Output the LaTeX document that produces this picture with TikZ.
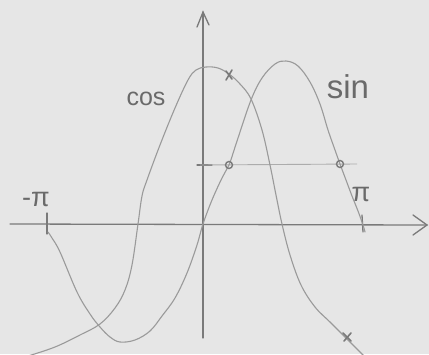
\documentclass[tikz,border=0pt]{standalone}
\usepackage{fontspec}
\setmainfont{Liberation Sans}
\begin{document}
\begin{tikzpicture}[x=1pt,y=-1pt,
  axis/.style={draw=axisgray,line width=1.3pt,line cap=round},
  curve/.style={draw=curvegray,line width=1.1pt,line cap=round,line join=round},
  lbl/.style={text=textgray,inner sep=0pt},
  ring/.style={circle,draw=axisgray,line width=1.4pt,minimum size=7pt,inner sep=0pt},
  cross/.style={draw=axisgray,line width=1.6pt,line cap=round}]
\definecolor{bggray}{HTML}{E6E6E6}
\definecolor{axisgray}{HTML}{7A7A7A}
\definecolor{curvegray}{HTML}{9A9A9A}
\definecolor{textgray}{HTML}{6A6A6A}
\definecolor{thingray}{HTML}{ACACAC}
\fill[bggray] (0,0) rectangle (429,354);
\useasboundingbox (0,0) rectangle (429,354);
% axes
\coordinate (xl) at (10,224);
\coordinate (xr) at (427,225);
\coordinate (yb) at (203,338);
\coordinate (yt) at (203,12);
\draw[axis] (xl) -- (xr);
\draw[axis] (413,215) -- (xr) -- (413,235);
\draw[axis] (yb) -- (yt);
\draw[axis] (197,27) -- (yt) -- (209,25);
% ticks
\draw[axis] (47,213) -- (47,234);
\draw[axis] (362,215) -- (363,232);
\draw[axis] (197,165) -- (212,165);
% level line
\draw[draw=thingray,line width=0.9pt] (200,165) -- (357,164);
% cos
\draw[curve] plot[smooth,tension=0.6] coordinates {(28,356) (55,347) (80,335) (100,324) (115,308) (125,290) (132,265) (138,224) (142,196) (147,180) (160,145) (175,108) (188,80) (196,70) (206,67) (218,68) (229,74) (240,84) (251,99) (262,130) (270,165) (276,195) (282,224) (290,255) (301,285) (315,307) (330,322) (344,336) (356,348) (364,356)};
% sin
\draw[curve] plot[smooth,tension=0.6] coordinates {(48,232) (52,238) (60,252) (77,292) (90,314) (100,327) (110,337) (120,342) (135,340) (150,331) (162,316) (175,298) (187,273) (197,245) (203,224) (212,200) (222,178) (229,165) (238,138) (251,100) (262,78) (275,64) (286,61) (298,66) (310,82) (320,104) (328,130) (335,150) (340,164) (346,180) (352,196) (358,211) (363,225) (365,232)};
% markers
\node[ring] (r1) at (229,165) {};
\node[ring] (r2) at (340,164) {};
\draw[cross] (226,71) -- (232,79);
\draw[cross] (232,70) -- (226,80);
\draw[cross] (343,333) -- (351,341);
\draw[cross] (351,333) -- (344,341);
% labels
\node[lbl,font=\fontsize{25}{25}\selectfont] (cos) at (146,99) {cos};
\node[lbl,font=\fontsize{33}{33}\selectfont] (sin) at (348,87) {sin};
\node[lbl,font=\fontsize{27}{27}\selectfont] (pi) at (361,194) {π};
\node[lbl,font=\fontsize{27}{27}\selectfont] (mpi) at (36,199) {-π};
\end{tikzpicture}
\end{document}
